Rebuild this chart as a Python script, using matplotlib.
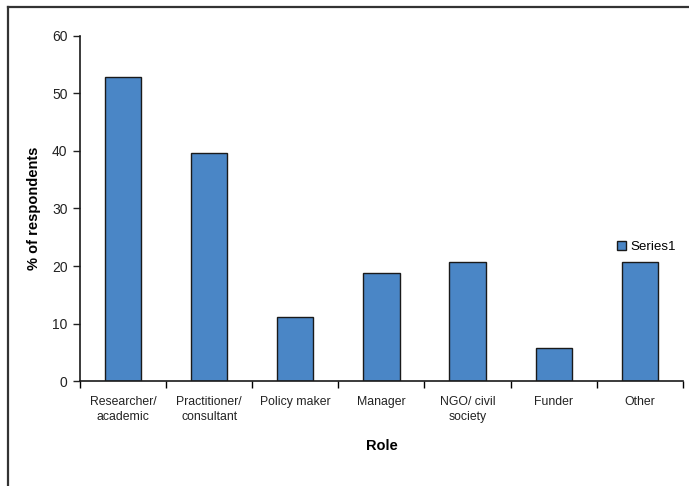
import matplotlib
matplotlib.use('Agg')
import matplotlib.pyplot as plt
from matplotlib.lines import Line2D

plt.rcParams['font.family'] = ['Liberation Sans', 'DejaVu Sans']

# data
roles = ['Researcher/\nacademic', 'Practitioner/\nconsultant', 'Policy maker', 'Manager',
         'NGO/ civil\nsociety', 'Funder', 'Other']
percent = [52.9, 39.7, 11.2, 18.8, 20.7, 5.7, 20.7]
series_name = 'Series1'
yticks = [0, 10, 20, 30, 40, 50, 60]

fig = plt.figure(figsize=(6.89, 4.86), dpi=100)
ax = fig.add_axes([0.1161, 0.216, 0.875, 0.71])

x = list(range(len(roles)))
bars = ax.bar(x, percent, width=0.42, color='#4a86c6', edgecolor='#1a1a1a',
              linewidth=1.0, label=series_name)

ax.set_xlim(-0.5, len(roles) - 0.5)
ax.set_ylim(0, 60)
ax.set_yticks(yticks)
ax.tick_params(axis='y', direction='out', length=5, width=1, labelsize=10, colors='#222222', pad=4)

# category labels in the middle, tick marks at boundaries
ax.set_xticks(x)
ax.set_xticklabels(roles, fontsize=8.8, color='#222222', linespacing=1.25)
ax.tick_params(axis='x', which='major', length=0, pad=11)
ax.set_xticks([i - 0.5 for i in range(len(roles) + 1)], minor=True)
ax.tick_params(axis='x', which='minor', direction='out', length=5, width=1)

for s in ['top', 'right']:
    ax.spines[s].set_visible(False)
for s in ['left', 'bottom']:
    ax.spines[s].set_linewidth(1.2)
    ax.spines[s].set_color('#1a1a1a')

ax.set_ylabel('% of respondents', fontsize=10.5, fontweight='bold', labelpad=8)
ax.set_xlabel('Role', fontsize=10.5, fontweight='bold', labelpad=12)

ax.legend(loc='center left', bbox_to_anchor=(0.886, 0.492), bbox_transform=fig.transFigure,
          frameon=False, fontsize=9.6, handlelength=0.7, handleheight=0.7,
          handletextpad=0.3, borderpad=0)

# outer frame (top and left edges visible)
fig.add_artist(Line2D([8 / 689, 1.0], [1 - 7 / 486, 1 - 7 / 486], color='#333333', lw=1.6,
                      transform=fig.transFigure))
fig.add_artist(Line2D([8 / 689, 8 / 689], [0, 1 - 7 / 486], color='#333333', lw=1.6,
                      transform=fig.transFigure))

fig.savefig('out.png', dpi=100)
